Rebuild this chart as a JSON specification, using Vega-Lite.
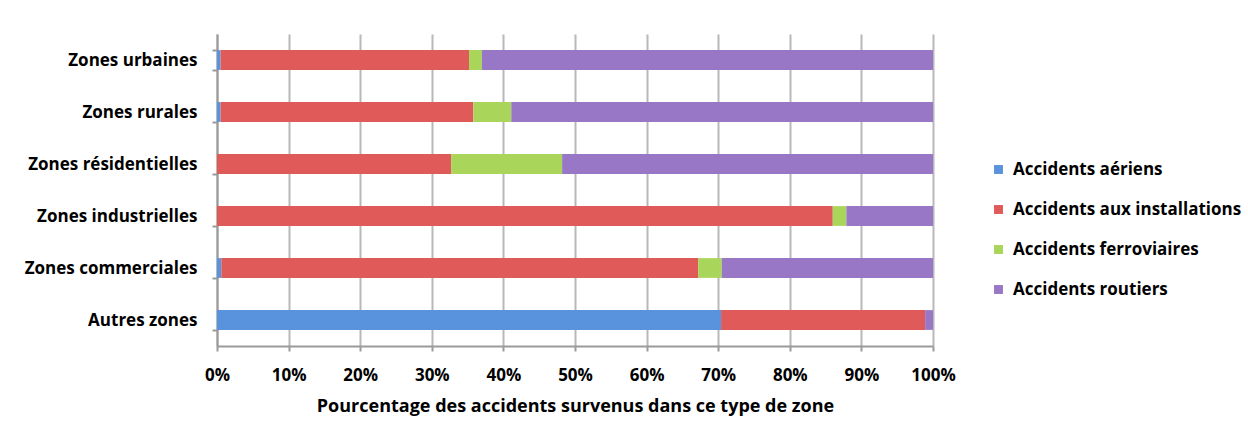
{
  "$schema": "https://vega.github.io/schema/vega-lite/v6.json",
  "autosize": {"type": "none"},
  "width": 716,
  "height": 312,
  "padding": {"left": 217, "top": 34, "right": 315, "bottom": 85},
  "background": "white",
  "data": {
    "values": [
      {"zone": "Zones urbaines", "type": "Accidents aériens", "ord": 1, "value": 0.5},
      {"zone": "Zones urbaines", "type": "Accidents aux installations", "ord": 2, "value": 34.7},
      {"zone": "Zones urbaines", "type": "Accidents ferroviaires", "ord": 3, "value": 1.8},
      {"zone": "Zones urbaines", "type": "Accidents routiers", "ord": 4, "value": 63.0},
      {"zone": "Zones rurales", "type": "Accidents aériens", "ord": 1, "value": 0.5},
      {"zone": "Zones rurales", "type": "Accidents aux installations", "ord": 2, "value": 35.3},
      {"zone": "Zones rurales", "type": "Accidents ferroviaires", "ord": 3, "value": 5.3},
      {"zone": "Zones rurales", "type": "Accidents routiers", "ord": 4, "value": 58.9},
      {"zone": "Zones résidentielles", "type": "Accidents aériens", "ord": 1, "value": 0},
      {"zone": "Zones résidentielles", "type": "Accidents aux installations", "ord": 2, "value": 32.7},
      {"zone": "Zones résidentielles", "type": "Accidents ferroviaires", "ord": 3, "value": 15.5},
      {"zone": "Zones résidentielles", "type": "Accidents routiers", "ord": 4, "value": 51.8},
      {"zone": "Zones industrielles", "type": "Accidents aériens", "ord": 1, "value": 0},
      {"zone": "Zones industrielles", "type": "Accidents aux installations", "ord": 2, "value": 86.0},
      {"zone": "Zones industrielles", "type": "Accidents ferroviaires", "ord": 3, "value": 1.9},
      {"zone": "Zones industrielles", "type": "Accidents routiers", "ord": 4, "value": 12.1},
      {"zone": "Zones commerciales", "type": "Accidents aériens", "ord": 1, "value": 0.6},
      {"zone": "Zones commerciales", "type": "Accidents aux installations", "ord": 2, "value": 66.6},
      {"zone": "Zones commerciales", "type": "Accidents ferroviaires", "ord": 3, "value": 3.3},
      {"zone": "Zones commerciales", "type": "Accidents routiers", "ord": 4, "value": 29.5},
      {"zone": "Autres zones", "type": "Accidents aériens", "ord": 1, "value": 70.4},
      {"zone": "Autres zones", "type": "Accidents aux installations", "ord": 2, "value": 28.5},
      {"zone": "Autres zones", "type": "Accidents ferroviaires", "ord": 3, "value": 0},
      {"zone": "Autres zones", "type": "Accidents routiers", "ord": 4, "value": 1.1}
    ]
  },
  "mark": {"type": "bar"},
  "encoding": {
    "y": {
      "field": "zone",
      "type": "nominal",
      "sort": ["Zones urbaines", "Zones rurales", "Zones résidentielles", "Zones industrielles", "Zones commerciales", "Autres zones"],
      "scale": {"paddingInner": 0.62, "paddingOuter": 0.31},
      "axis": {
        "title": null,
        "tickBand": "extent",
        "grid": false,
        "domainColor": "#9a9a9a",
        "domainWidth": 2,
        "tickColor": "#9a9a9a",
        "tickWidth": 2,
        "tickSize": 5,
        "labelPadding": 15,
        "labelFont": "Open Sans",
        "labelFontSize": 17,
        "labelFontWeight": "bold",
        "labelColor": "#000000",
        "labelLimit": 300
      }
    },
    "x": {
      "field": "value",
      "type": "quantitative",
      "stack": "normalize",
      "scale": {"domain": [0, 1], "nice": false},
      "axis": {
        "format": ".0%",
        "values": [0, 0.1, 0.2, 0.3, 0.4, 0.5, 0.6, 0.7, 0.8, 0.9, 1],
        "title": "Pourcentage des accidents survenus dans ce type de zone",
        "titleFont": "Open Sans",
        "titleFontSize": 18,
        "titleFontWeight": "bold",
        "titleColor": "#000000",
        "titlePadding": 14,
        "grid": true,
        "gridColor": "#b8b8b8",
        "gridWidth": 2,
        "domainColor": "#9a9a9a",
        "domainWidth": 2,
        "tickColor": "#9a9a9a",
        "tickWidth": 2,
        "tickSize": 5,
        "labelPadding": 16,
        "labelFont": "Open Sans",
        "labelFontSize": 17,
        "labelFontWeight": "bold",
        "labelColor": "#000000",
        "labelFlush": false
      }
    },
    "color": {
      "field": "type",
      "type": "nominal",
      "scale": {
        "domain": ["Accidents aériens", "Accidents aux installations", "Accidents ferroviaires", "Accidents routiers"],
        "range": ["#5a93dd", "#e05a5a", "#a9d65a", "#9878c6"]
      },
      "legend": {
        "title": null,
        "orient": "none",
        "legendX": 773,
        "legendY": 127,
        "symbolType": "square",
        "symbolSize": 80,
        "symbolStrokeWidth": 0,
        "rowPadding": 22,
        "labelFont": "Open Sans",
        "labelFontSize": 17,
        "labelFontWeight": "bold",
        "labelColor": "#000000",
        "labelOffset": 6,
        "labelLimit": 400
      }
    },
    "order": {"field": "ord", "type": "quantitative"}
  },
  "config": {
    "view": {"stroke": null}
  }
}
